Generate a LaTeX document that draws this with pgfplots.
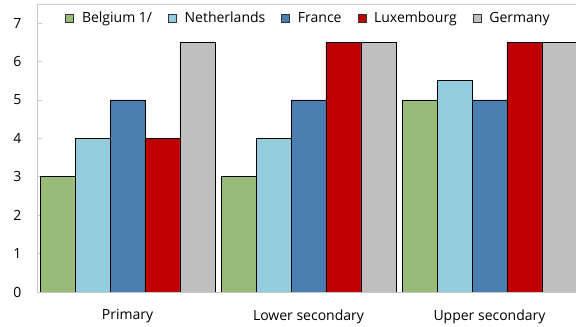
\documentclass[border=0pt]{standalone}
\usepackage{pgfplots}
\pgfplotsset{compat=1.18}
\usepackage{fontspec}
\setmainfont{Open Sans}
\definecolor{cBel}{RGB}{152,187,122}
\definecolor{cNet}{RGB}{147,205,221}
\definecolor{cFra}{RGB}{74,126,176}
\definecolor{cLux}{RGB}{192,0,0}
\definecolor{cGer}{RGB}{191,191,191}
\definecolor{axgray}{RGB}{200,200,200}
\begin{document}
\begin{tikzpicture}
\useasboundingbox (0,0) rectangle (576bp,327bp);
\begin{axis}[
  at={(37bp,35bp)}, anchor=south west,
  scale only axis, width=543bp, height=288bp,
  xmin=-0.5, xmax=2.5, ymin=0, ymax=7.5,
  ytick={0,...,7},
  xtick={0,1,2},
  xticklabels={Primary,Lower secondary,Upper secondary},
  ybar, bar width=0.193,
  axis line style={draw=axgray, line width=0.8bp},
  ytick pos=left,
  tick align=inside,
  major tick length=5bp,
  ytick style={draw=axgray, line width=0.8bp},
  xtick style={draw=none},
  /pgf/number format/assume math mode=true,
  tick label style={font=\fontsize{14bp}{16bp}\selectfont},
  yticklabel style={xshift=-12bp},
  xticklabel style={yshift=-14bp},
  legend columns=-1,
  legend style={at={(0.5,1)}, anchor=north, draw=none, fill=none,
    font=\fontsize{14bp}{16bp}\selectfont, yshift=-4bp, inner sep=2bp,
    /tikz/every odd column/.append style={column sep=6bp},
    /tikz/every even column/.append style={column sep=14bp}},
  legend image code/.code={\draw[#1,draw=black!80,line width=0.6bp] (0bp,-4bp) rectangle (8bp,4bp);},
  every axis plot/.append style={draw=black, line width=0.6bp},
]
\addplot[fill=cBel, bar shift=-0.386] coordinates {(0,3) (1,3) (2,5)};
\addplot[fill=cNet, bar shift=-0.193] coordinates {(0,4) (1,4) (2,5.5)};
\addplot[fill=cFra, bar shift=0] coordinates {(0,5) (1,5) (2,5)};
\addplot[fill=cLux, bar shift=0.193] coordinates {(0,4) (1,6.5) (2,6.5)};
\addplot[fill=cGer, bar shift=0.386] coordinates {(0,6.5) (1,6.5) (2,6.5)};
\legend{Belgium 1/,Netherlands,France,Luxembourg,Germany}
\end{axis}
\end{tikzpicture}
\end{document}
